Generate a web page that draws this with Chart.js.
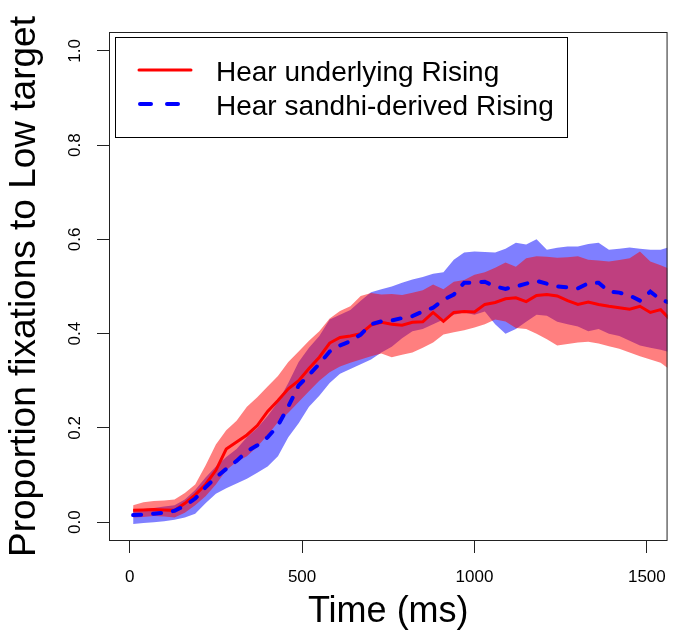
<!DOCTYPE html>
<html>
<head>
<meta charset="utf-8">
<script src="https://cdn.jsdelivr.net/npm/chart.js@4.4.0/dist/chart.umd.min.js"></script>
<style>
  body { margin: 0; background: #fff; }
</style>
</head>
<body>
<canvas id="chart" width="680" height="643"></canvas>
<script>
// time in ms
var times = [10, 40, 70, 100, 130, 160, 190, 220, 250, 280, 310, 340, 370, 400, 430, 460, 490, 520, 550, 580,
  610, 640, 670, 700, 730, 760, 790, 820, 850, 880, 910, 940, 970, 1000, 1030, 1060, 1090, 1120, 1150, 1180,
  1210, 1240, 1270, 1300, 1330, 1360, 1390, 1420, 1450, 1480, 1510, 1540, 1570];

// Hear underlying Rising
var redMean = [0.025, 0.026, 0.027, 0.026, 0.025, 0.040, 0.058, 0.080, 0.110, 0.155, 0.170, 0.185, 0.205, 0.235,
  0.258, 0.283, 0.300, 0.326, 0.350, 0.380, 0.392, 0.395, 0.400, 0.418, 0.424, 0.420, 0.418, 0.424, 0.425, 0.445,
  0.426, 0.445, 0.447, 0.446, 0.462, 0.466, 0.474, 0.476, 0.468, 0.481, 0.483, 0.480, 0.470, 0.462, 0.467, 0.462,
  0.458, 0.455, 0.452, 0.458, 0.445, 0.451, 0.428];
var redUpper = [0.036, 0.042, 0.045, 0.046, 0.048, 0.062, 0.080, 0.120, 0.165, 0.195, 0.215, 0.245, 0.265, 0.288,
  0.310, 0.340, 0.362, 0.385, 0.405, 0.432, 0.448, 0.458, 0.480, 0.486, 0.483, 0.484, 0.482, 0.487, 0.492, 0.504,
  0.494, 0.510, 0.514, 0.525, 0.530, 0.540, 0.551, 0.542, 0.560, 0.564, 0.563, 0.561, 0.562, 0.564, 0.557, 0.555,
  0.553, 0.556, 0.560, 0.574, 0.553, 0.545, 0.536];
var redLower = [0.010, 0.011, 0.013, 0.012, 0.010, 0.020, 0.036, 0.055, 0.080, 0.110, 0.128, 0.140, 0.160, 0.185,
  0.212, 0.232, 0.255, 0.278, 0.300, 0.318, 0.330, 0.338, 0.345, 0.352, 0.358, 0.350, 0.355, 0.360, 0.370, 0.381,
  0.398, 0.403, 0.407, 0.413, 0.420, 0.430, 0.426, 0.412, 0.410, 0.400, 0.388, 0.375, 0.378, 0.381, 0.383, 0.379,
  0.373, 0.368, 0.360, 0.352, 0.345, 0.338, 0.322];

// Hear sandhi-derived Rising
var blueMean = [0.015, 0.016, 0.018, 0.020, 0.024, 0.035, 0.050, 0.074, 0.095, 0.113, 0.130, 0.150, 0.163, 0.180,
  0.205, 0.245, 0.290, 0.312, 0.336, 0.362, 0.375, 0.384, 0.398, 0.420, 0.426, 0.428, 0.433, 0.437, 0.447, 0.455,
  0.472, 0.483, 0.508, 0.508, 0.510, 0.500, 0.495, 0.500, 0.506, 0.512, 0.506, 0.500, 0.498, 0.496, 0.507, 0.508,
  0.489, 0.487, 0.481, 0.470, 0.489, 0.472, 0.465];
var blueUpper = [0.026, 0.028, 0.030, 0.033, 0.036, 0.048, 0.068, 0.095, 0.118, 0.138, 0.155, 0.180, 0.200, 0.225,
  0.255, 0.295, 0.340, 0.370, 0.395, 0.430, 0.440, 0.450, 0.470, 0.488, 0.494, 0.500, 0.508, 0.515, 0.520, 0.527,
  0.530, 0.557, 0.572, 0.574, 0.573, 0.572, 0.580, 0.593, 0.589, 0.600, 0.578, 0.582, 0.585, 0.585, 0.590, 0.593,
  0.578, 0.580, 0.583, 0.580, 0.578, 0.578, 0.585];
var blueLower = [-0.004, -0.002, 0.000, 0.002, 0.005, 0.010, 0.018, 0.040, 0.060, 0.072, 0.082, 0.092, 0.105, 0.118,
  0.140, 0.180, 0.210, 0.245, 0.268, 0.295, 0.315, 0.325, 0.335, 0.345, 0.360, 0.372, 0.390, 0.405, 0.410, 0.420,
  0.430, 0.440, 0.445, 0.440, 0.447, 0.420, 0.400, 0.410, 0.425, 0.440, 0.438, 0.425, 0.420, 0.415, 0.405, 0.410,
  0.400, 0.395, 0.385, 0.375, 0.370, 0.366, 0.360];

var xTicks = [0, 500, 1000, 1500];
var yTicks = [0, 0.2, 0.4, 0.6, 0.8, 1.0];
var seriesNames = ['Hear underlying Rising', 'Hear sandhi-derived Rising'];

var FONT = "'Liberation Sans', Arial, sans-serif";

function pts(ys) {
    return times.map(function (t, i) { return { x: t, y: ys[i] }; });
}

function band(ys, color, fill, order) {
    return {
        data: pts(ys),
        borderWidth: 0,
        pointRadius: 0,
        backgroundColor: color,
        fill: fill,
        order: order
    };
}

// box round the plot and the legend inside it, R style
var boxPlugin = {
    id: 'box',
    afterDraw: function (chart) {
        var ctx = chart.ctx;
        var a = chart.chartArea;
        ctx.save();
        ctx.strokeStyle = '#222';
        ctx.lineWidth = 1;
        ctx.strokeRect(a.left + 0.5, a.top + 0.5, a.right - a.left - 1, a.bottom - a.top - 1);

        // legend
        ctx.fillStyle = '#fff';
        ctx.fillRect(115, 37, 452, 100);
        ctx.strokeStyle = '#000';
        ctx.strokeRect(115.5, 37.5, 452, 100);

        ctx.lineCap = 'round';
        ctx.lineWidth = 3;
        ctx.strokeStyle = '#ff0000';
        ctx.beginPath();
        ctx.moveTo(139, 70);
        ctx.lineTo(191, 70);
        ctx.stroke();

        ctx.lineWidth = 4;
        ctx.strokeStyle = '#0000ff';
        ctx.setLineDash([11, 16]);
        ctx.beginPath();
        ctx.moveTo(140, 104);
        ctx.lineTo(191, 104);
        ctx.stroke();
        ctx.setLineDash([]);

        ctx.fillStyle = '#000';
        ctx.font = '28px ' + FONT;
        ctx.textBaseline = 'alphabetic';
        ctx.fillText(seriesNames[0], 216, 81);
        ctx.fillText(seriesNames[1], 216, 115);
        ctx.restore();
    }
};

var ctx = document.getElementById('chart').getContext('2d');
var chart = new Chart(ctx, {
    type: 'line',
    data: {
        datasets: [
            {
                label: seriesNames[1],
                data: pts(blueMean),
                borderColor: '#0000ff',
                borderWidth: 4,
                borderDash: [8, 12],
                borderCapStyle: 'round',
                pointRadius: 0,
                fill: false,
                order: 0
            },
            {
                label: seriesNames[0],
                data: pts(redMean),
                borderColor: '#ff0000',
                borderWidth: 3,
                pointRadius: 0,
                fill: false,
                order: 1
            },
            band(redUpper, 'rgba(255, 0, 0, 0.5)', '+1', 2),
            band(redLower, 'rgba(255, 0, 0, 0)', false, 3),
            band(blueUpper, 'rgba(0, 0, 255, 0.5)', '+1', 4),
            band(blueLower, 'rgba(0, 0, 255, 0)', false, 5)
        ]
    },
    options: {
        responsive: false,
        animation: false,
        parsing: false,
        layout: { padding: { top: 32, right: 6, left: 0, bottom: 0 } },
        plugins: {
            legend: { display: false },
            tooltip: { enabled: false }
        },
        elements: { line: { tension: 0 } },
        scales: {
            x: {
                type: 'linear',
                min: -60,
                max: 1560,
                afterBuildTicks: function (s) {
                    s.ticks = xTicks.map(function (v) { return { value: v }; });
                },
                afterFit: function (s) { s.height = 102; },
                ticks: {
                    color: '#000',
                    font: { family: FONT, size: 17 },
                    padding: 14,
                    maxRotation: 0,
                    callback: function (v) { return String(v); }
                },
                grid: {
                    drawOnChartArea: false,
                    drawTicks: true,
                    tickLength: 12,
                    tickColor: '#222',
                    color: '#222'
                },
                border: { display: false },
                title: {
                    display: true,
                    text: 'Time (ms)',
                    color: '#000',
                    font: { family: FONT, size: 36 },
                    padding: { top: 0, bottom: 9 }
                }
            },
            y: {
                type: 'linear',
                min: -0.04,
                max: 1.04,
                afterBuildTicks: function (s) {
                    s.ticks = yTicks.map(function (v) { return { value: v }; });
                },
                afterFit: function (s) { s.width = 109; },
                ticks: {
                    color: '#000',
                    font: { family: FONT, size: 17 },
                    padding: 10,
                    minRotation: 90,
                    maxRotation: 90,
                    crossAlign: 'center',
                    callback: function (v) { return v.toFixed(1); }
                },
                grid: {
                    drawOnChartArea: false,
                    drawTicks: true,
                    tickLength: 12,
                    tickColor: '#222',
                    color: '#222'
                },
                border: { display: false },
                title: {
                    display: true,
                    text: 'Proportion fixations to Low target',
                    color: '#000',
                    font: { family: FONT, size: 37 },
                    padding: { top: 3, bottom: 0 }
                }
            }
        }
    },
    plugins: [boxPlugin]
});
</script>
</body>
</html>
